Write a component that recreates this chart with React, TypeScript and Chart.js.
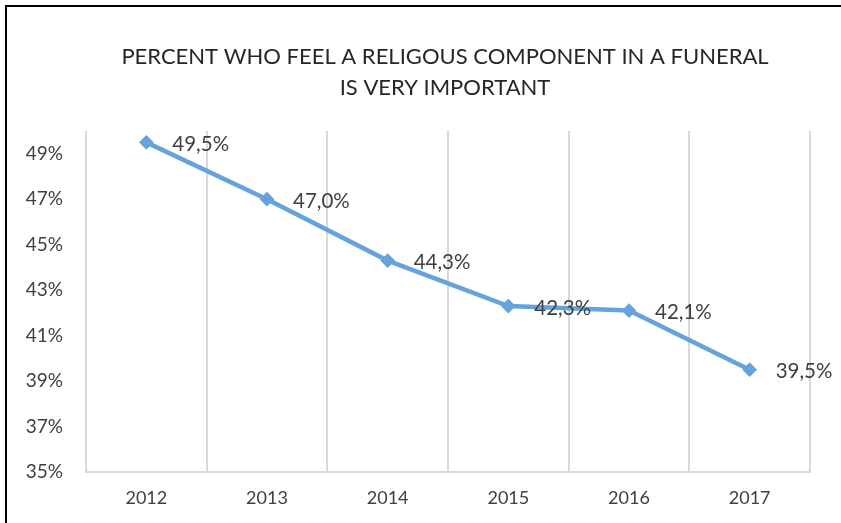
import React, { useEffect, useRef } from 'react';
import { Chart, registerables } from 'chart.js';

Chart.register(...registerables);

const years = ['2012', '2013', '2014', '2015', '2016', '2017'];
const percentValues = [49.5, 47.0, 44.3, 42.3, 42.1, 39.5];
const titleLines = ['PERCENT WHO FEEL A RELIGOUS COMPONENT IN A FUNERAL', 'IS VERY IMPORTANT'];
const yTickValues = [35, 37, 39, 41, 43, 45, 47, 49];
const yMin = 35;
const yMax = 50;

const FONT = 'Lato, "Liberation Sans", sans-serif';
const LINE_COLOR = '#65A3DC';
const GRID_COLOR = '#d9d9d9';
const TEXT_COLOR = '#404040';

const fmtLabel = (v: number) => v.toFixed(1).replace('.', ',') + '%';

const titlePlugin = {
  id: 'customTitle',
  afterDraw(chart: any) {
    const ctx = chart.ctx;
    ctx.save();
    ctx.font = `22px ${FONT}`;
    ctx.fillStyle = '#262626';
    ctx.textAlign = 'center';
    ctx.textBaseline = 'middle';
    titleLines.forEach((line, i) => {
      ctx.fillText(line, 445, 57 + i * 31);
    });
    ctx.restore();
  },
};

const pointLabelPlugin = {
  id: 'pointValueLabels',
  afterDatasetsDraw(chart: any) {
    const ctx = chart.ctx;
    const meta = chart.getDatasetMeta(0);
    ctx.save();
    ctx.font = `20.5px ${FONT}`;
    ctx.fillStyle = TEXT_COLOR;
    ctx.textAlign = 'left';
    ctx.textBaseline = 'middle';
    meta.data.forEach((pt: any, i: number) => {
      ctx.fillText(fmtLabel(percentValues[i]), pt.x + 26, pt.y + 2);
    });
    ctx.restore();
  },
};

export default function App() {
  const canvasRef = useRef<HTMLCanvasElement | null>(null);

  useEffect(() => {
    const canvas = canvasRef.current;
    if (!canvas) return;
    const chart = new Chart(canvas, {
      type: 'line',
      data: {
        labels: years,
        datasets: [
          {
            data: percentValues,
            borderColor: LINE_COLOR,
            backgroundColor: LINE_COLOR,
            borderWidth: 4.5,
            pointStyle: 'rectRot',
            pointRadius: 6,
            pointBorderWidth: 2,
            pointBackgroundColor: LINE_COLOR,
            pointBorderColor: LINE_COLOR,
            tension: 0,
            fill: false,
          },
        ],
      },
      options: {
        responsive: false,
        animation: false,
        devicePixelRatio: 1,
        layout: { padding: { left: 0, right: 31, top: 131, bottom: 0 } },
        plugins: {
          legend: { display: false },
          tooltip: { enabled: false },
          title: { display: false },
        },
        scales: {
          x: {
            type: 'category',
            offset: true,
            grid: {
              display: true,
              offset: true,
              color: GRID_COLOR,
              lineWidth: 2,
              drawTicks: false,
            },
            border: { display: true, color: GRID_COLOR, width: 2 },
            ticks: {
              padding: 15,
              color: TEXT_COLOR,
              font: { family: FONT, size: 18 },
            },
            afterFit(scale: any) {
              scale.height = 51;
            },
          },
          y: {
            type: 'linear',
            min: yMin,
            max: yMax,
            grid: { display: false, drawTicks: false },
            border: { display: false },
            ticks: {
              padding: 23,
              color: TEXT_COLOR,
              font: { family: FONT, size: 19 },
              callback: (v: any) => `${v}%`,
            },
            afterBuildTicks(scale: any) {
              scale.ticks = yTickValues.map((value) => ({ value }));
            },
            afterFit(scale: any) {
              scale.width = 86;
            },
          },
        },
      },
      plugins: [titlePlugin, pointLabelPlugin],
    });
    return () => chart.destroy();
  }, []);

  return (
    <div
      style={{
        position: 'fixed',
        left: 0,
        top: 0,
        width: 841,
        height: 523,
        background: '#ffffff',
        overflow: 'hidden',
      }}
    >
      <div
        style={{
          position: 'absolute',
          left: 5,
          top: 5,
          width: 836,
          height: 518,
          borderLeft: '2px solid #000',
          borderTop: '2px solid #000',
          boxSizing: 'border-box',
        }}
      />
      <canvas
        ref={canvasRef}
        width={841}
        height={523}
        style={{ position: 'absolute', left: 0, top: 0, width: 841, height: 523 }}
      />
    </div>
  );
}
